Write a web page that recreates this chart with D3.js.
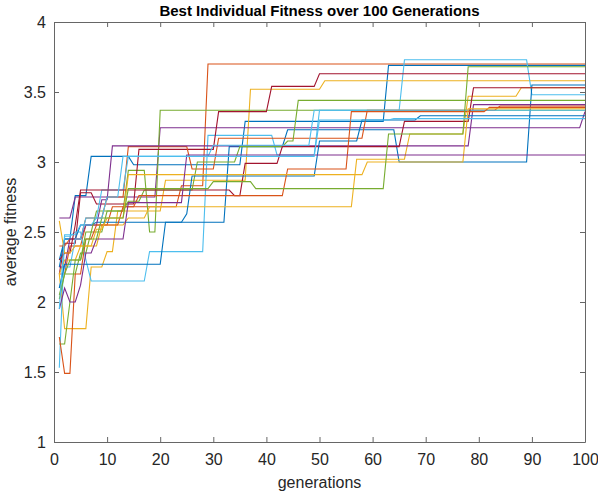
<!DOCTYPE html>
<html>
<head>
<meta charset="utf-8">
<script src="https://cdn.jsdelivr.net/npm/d3@7"></script>
<style>
  body { margin: 0; background: #fff; }
  text { font-family: "Liberation Sans", Arial, sans-serif; }
</style>
</head>
<body>
<svg id="chart" width="598" height="494"></svg>
<script>
// best fitness per run, stored as [generation, value] change points
var run01 = [[1,2.25],[2,2.45],[4,2.76],[7,3.04],[15,2.98],[36,3.29],[63,3.69]];
var run02 = [[1,2.2],[3,2.4],[6,2.55],[11,2.68],[24,2.83],[29,3.70]];
var run03 = [[1,2.2],[2,1.81],[7,2.25],[10,2.36],[12,2.65],[21,2.87],[37,3.52],[51,3.58]];
var run04 = [[1,2.6],[4,2.75],[20,3.245],[100,3.36]];
var run05 = [[1,2.05],[2,2.2],[5,2.35],[7,2.5],[10,2.65],[14,2.94],[18,2.5],[20,3.37]];
var run06 = [[1,1.53],[2,2.47],[4,2.5],[6,2.3],[7,2.15],[18,2.36],[29,3.19],[42,3.05],[50,3.37],[66,3.73],[90,3.48]];
var run07 = [[1,2.2],[2,2.42],[5,2.78],[8,2.7],[16,3.09],[31,3.36],[41,3.54],[50,3.63]];
var run08 = [[1,2.3],[2,2.45],[5,2.55],[8,2.57],[33,3.11],[44,3.23],[65,3.0],[90,3.55]];
var run09 = [[1,2.4],[3,2.45],[6,2.6],[10,2.75],[14,3.11],[26,2.95],[31,3.17],[59,3.37],[84,3.40]];
var run10 = [[1,2.2],[2,2.3],[5,2.4],[9,2.55],[14,2.6],[18,2.68],[57,3.02],[67,3.2],[78,3.47],[88,3.53]];
var run11 = [[1,2.25],[3,2.45],[6,2.55],[9,2.73],[11,3.115],[79,3.41]];
var run12 = [[1,1.7],[3,2.0],[4,2.3],[6,2.5],[8,2.65],[14,2.72],[17,2.8],[27,3.0],[35,3.11],[44,3.15],[46,3.44]];
var run13 = [[1,2.1],[2,2.25],[4,2.45],[6,2.6],[9,2.8],[14,3.04],[30,3.12],[49,3.37]];
var run14 = [[1,2.3],[2,2.35],[4,2.55],[5,2.8],[34,2.76],[36,2.99],[43,3.11],[66,3.29],[79,3.53]];
var run15 = [[1,2.1],[2,2.27],[21,2.57],[25,2.63],[26,2.9],[50,3.15],[58,3.3],[69,3.33]];
var run16 = [[1,1.75],[2,1.49],[4,2.2],[6,2.45],[8,2.55],[13,2.68],[16,2.76],[44,2.95],[56,3.36],[82,3.39]];
var run17 = [[1,2.58],[2,2.35],[4,2.4],[8,2.52],[10,2.6],[14,2.91],[59,3.0],[78,3.38]];
var run18 = [[1,1.95],[2,2.1],[3,2.0],[5,2.12],[6,2.35],[8,2.45],[14,2.71],[25,3.05]];
var run19 = [[1,2.02],[2,2.2],[3,2.3],[6,2.45],[9,2.6],[14,2.81],[30,2.86],[38,2.81],[63,3.2],[78,3.68]];
var run20 = [[1,1.95],[2,2.48],[5,2.55],[8,2.6],[10,2.75],[13,3.04],[50,3.3],[64,3.31]];

var runs = [run01,run02,run03,run04,run05,run06,run07,run08,run09,run10,
            run11,run12,run13,run14,run15,run16,run17,run18,run19,run20];
var lastGen = 100;
var xTicks = [0,10,20,30,40,50,60,70,80,90,100];
var yTicks = [1,1.5,2,2.5,3,3.5,4];

var palette = ['#0072BD','#D95319','#EDB120','#7E2F8E','#77AC30','#4DBEEE','#A2142F'];

var svg = d3.select('#chart');
var plotL = 54, plotR = 585, plotT = 22, plotB = 442;

var x = d3.scaleLinear().domain([0, 100]).range([plotL, plotR]);
var y = d3.scaleLinear().domain([1, 4]).range([plotB, plotT]);

// turn change points into the per-generation polyline
function vertices(steps) {
  var pts = [];
  steps.forEach(function(s, k) {
    if (k > 0 && s[0] - 1 > steps[k-1][0]) pts.push([s[0] - 1, steps[k-1][1]]);
    pts.push(s);
  });
  var last = steps[steps.length - 1];
  if (last[0] < lastGen) pts.push([lastGen, last[1]]);
  return pts;
}

var line = d3.line().x(function(d) { return x(d[0]); }).y(function(d) { return y(d[1]); });

svg.append('g').selectAll('path')
  .data(runs)
  .enter().append('path')
  .attr('d', function(d) { return line(vertices(d)); })
  .attr('fill', 'none')
  .attr('stroke', function(d, i) { return palette[i % palette.length]; })
  .attr('stroke-width', 1.1);

// axes, matlab style: ticks inward on all sides
function styleAxis(g) {
  g.select('.domain').attr('stroke', '#666').attr('stroke-width', 1);
  g.selectAll('.tick line').attr('stroke', '#666');
  g.selectAll('.tick text').attr('fill', '#262626')
    .style('font-size', '16px').style('font-family', '"Liberation Sans", Arial, sans-serif');
}

svg.append('g').attr('transform', 'translate(0,' + plotB + ')')
  .call(d3.axisBottom(x).tickValues(xTicks).tickSizeInner(-5).tickSizeOuter(0).tickPadding(12))
  .call(styleAxis);
svg.append('g').attr('transform', 'translate(0,' + plotT + ')')
  .call(d3.axisTop(x).tickValues(xTicks).tickSizeInner(-5).tickSizeOuter(0).tickFormat(''))
  .call(styleAxis);
svg.append('g').attr('transform', 'translate(' + plotL + ',0)')
  .call(d3.axisLeft(y).tickValues(yTicks).tickSizeInner(-5).tickSizeOuter(0).tickPadding(8)
    .tickFormat(d3.format('')))
  .call(styleAxis);
svg.append('g').attr('transform', 'translate(' + plotR + ',0)')
  .call(d3.axisRight(y).tickValues(yTicks).tickSizeInner(-5).tickSizeOuter(0).tickFormat(''))
  .call(styleAxis);

svg.append('text')
  .attr('x', (plotL + plotR) / 2).attr('y', 16)
  .attr('text-anchor', 'middle')
  .style('font-size', '15px').style('font-weight', 'bold')
  .attr('fill', '#000')
  .text('Best Individual Fitness over 100 Generations');

svg.append('text')
  .attr('x', (plotL + plotR) / 2).attr('y', 488)
  .attr('text-anchor', 'middle')
  .style('font-size', '16px')
  .attr('fill', '#262626')
  .text('generations');

svg.append('text')
  .attr('transform', 'translate(16,' + ((plotT + plotB) / 2) + ') rotate(-90)')
  .attr('text-anchor', 'middle')
  .style('font-size', '16px')
  .attr('fill', '#262626')
  .text('average fitness');
</script>
</body>
</html>
